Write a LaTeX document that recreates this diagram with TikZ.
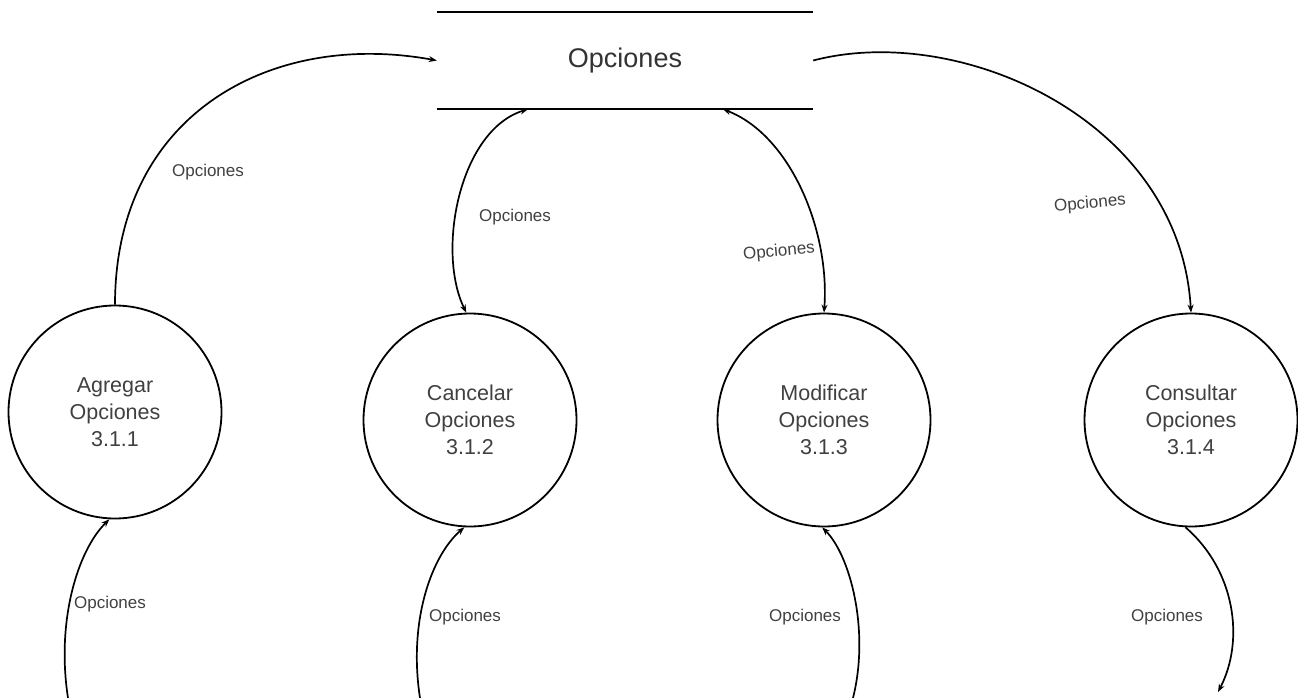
\documentclass[tikz,border=0pt]{standalone}
\usepackage{fontspec}
\setmainfont{Liberation Sans}
\usepackage{tikz}
\usetikzlibrary{shapes, positioning, arrows.meta}

\begin{document}
\begin{tikzpicture}[x=1pt, y=-1pt, >={Stealth[length=8pt,width=6pt]},
  proc/.style={circle, draw, line width=1.8pt, minimum size=213pt, inner sep=0pt,
    align=center, text=black!75, font=\fontsize{21.5}{27}\selectfont},
  flow/.style={line width=1.7pt},
  lbl/.style={text=black!75, inner sep=0pt, font=\fontsize{17}{20}\selectfont}]
  \useasboundingbox (0,0) rectangle (1298,698);

  % almacen de datos
  \node[minimum width=376pt, minimum height=97pt, inner sep=0pt, text=black!80,
    font=\fontsize{27}{32}\selectfont] (store) at (625,60.5) {Opciones};
  \draw[line width=2pt] (store.north west) -- (store.north east);
  \draw[line width=2pt] (store.south west) -- (store.south east);

  % procesos
  \node[proc] (agregar) at (115,412) {Agregar\\Opciones\\3.1.1};
  \node[proc] (cancelar) at (470,420) {Cancelar\\Opciones\\3.1.2};
  \node[proc] (modificar) at (824,420) {Modificar\\Opciones\\3.1.3};
  \node[proc] (consultar) at (1191,420) {Consultar\\Opciones\\3.1.4};

  % extremos libres
  \coordinate (inA) at (68,698);
  \coordinate (inC) at (420,698);
  \coordinate (inM) at (853,698);
  \coordinate (outQ) at (1218,692);

  % flujos hacia el almacen
  \draw[flow, ->] (agregar.north) .. controls (115,115) and (270,30) .. (store.west);
  \draw[flow, <->] (cancelar.92) .. controls (436,250) and (460,130) .. ([xshift=-97pt]store.south);
  \draw[flow, <->] ([xshift=98pt]store.south) .. controls (790,135) and (830,230) .. (modificar.north);
  \draw[flow, ->] (store.east) .. controls (960,22) and (1180,120) .. (consultar.north);

  % flujos de entrada y salida
  \draw[flow, ->] (inA) .. controls (56,620) and (78,550) .. (agregar.267);
  \draw[flow, ->] (inC) .. controls (408,620) and (432,555) .. (cancelar.267);
  \draw[flow, ->] (inM) .. controls (870,630) and (850,555) .. (modificar.269);
  \draw[flow, ->] (consultar.267) .. controls (1235,570) and (1245,640) .. (outQ);

  % etiquetas
  \node[lbl] (l1) at (208,172) {Opciones};
  \node[lbl] (l2) at (515,217) {Opciones};
  \node[lbl, rotate=5] (l3) at (779,252) {Opciones};
  \node[lbl, rotate=5] (l4) at (1090,204) {Opciones};
  \node[lbl] (l5) at (110,604) {Opciones};
  \node[lbl] (l6) at (465,617) {Opciones};
  \node[lbl] (l7) at (805,617) {Opciones};
  \node[lbl] (l8) at (1167,617) {Opciones};
\end{tikzpicture}
\end{document}
